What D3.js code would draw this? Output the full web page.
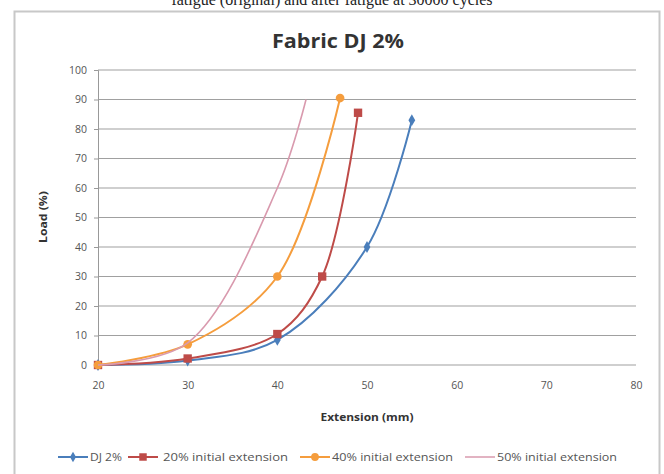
<!DOCTYPE html>
<html>
<head>
<meta charset="utf-8">
<script src="https://cdn.jsdelivr.net/npm/d3@7"></script>
<style>
  body { margin: 0; background: #fff; }
  svg { display: block; }
</style>
</head>
<body>
<div id="chart"></div>
<script>
// values
const seriesNames = ['DJ 2%', '20% initial extension', '40% initial extension', '50% initial extension'];
const dj2 = [[20, 0], [30, 1.5], [40, 8.5], [50, 40], [55, 83]];
const ext20 = [[20, 0], [30, 2.2], [40, 10.5], [45, 30], [49, 85.5]];
const ext40 = [[20, 0], [30, 7], [40, 30], [47, 90.5]];
const ext50 = [[20, 0], [30, 7.5], [40, 60], [43.2, 90]];
const xTicks = [20, 30, 40, 50, 60, 70, 80];
const yTicks = [0, 10, 20, 30, 40, 50, 60, 70, 80, 90, 100];

const colors = ['#4a7ebb', '#be4b48', '#f59d3d', '#d99aae'];
const markers = ['diamond', 'square', 'circle', null];
const seriesData = [dj2, ext20, ext40, ext50];

const width = 664, height = 474;
const margin = { left: 98, right: 28, top: 70, bottom: 109 };
const font = '"Open Sans", sans-serif';

const svg = d3.select('#chart').append('svg')
  .attr('width', width).attr('height', height);

// caption, cut off by the top edge as in the source scan
svg.append('text')
  .attr('x', 332).attr('y', 5)
  .attr('text-anchor', 'middle')
  .style('font-family', '"Liberation Serif", serif')
  .style('font-size', '16px')
  .attr('fill', '#222')
  .text('fatigue (original) and after fatigue at 30000 cycles');

// chart frame
svg.append('rect')
  .attr('x', 14.5).attr('y', 11.5)
  .attr('width', 645).attr('height', 470)
  .attr('fill', '#fff')
  .attr('stroke', '#c8c8c8')
  .attr('stroke-width', 2);

svg.append('text')
  .attr('x', 338).attr('y', 48)
  .attr('text-anchor', 'middle')
  .style('font-family', font)
  .style('font-weight', 'bold')
  .style('font-size', '20px')
  .attr('fill', '#333')
  .attr('textLength', 132)
  .attr('lengthAdjust', 'spacingAndGlyphs')
  .text('Fabric DJ 2%');

const x = d3.scaleLinear().domain([20, 80]).range([margin.left, width - margin.right]);
const y = d3.scaleLinear().domain([0, 100]).range([height - margin.bottom, margin.top]);

// gridlines
svg.append('g')
  .selectAll('line')
  .data(yTicks)
  .join('line')
  .attr('x1', margin.left).attr('x2', x(80))
  .attr('y1', d => y(d)).attr('y2', d => y(d))
  .attr('stroke', '#a0a0a0')
  .attr('stroke-width', 1.2);

// y axis
const gy = svg.append('g')
  .attr('transform', `translate(${margin.left},0)`)
  .call(d3.axisLeft(y).tickValues(yTicks).tickSize(4).tickPadding(7));
gy.select('.domain').attr('stroke', '#999');
gy.selectAll('.tick line').attr('stroke', '#999');
gy.selectAll('text')
  .style('font-family', font)
  .style('font-size', '10.5px')
  .attr('fill', '#555');

// x axis
const gx = svg.append('g')
  .attr('transform', `translate(0,${y(0)})`)
  .call(d3.axisBottom(x).tickValues(xTicks).tickSize(0).tickPadding(17));
gx.select('.domain').remove();
gx.selectAll('text')
  .style('font-family', font)
  .style('font-size', '10.5px')
  .attr('fill', '#555');

// axis labels
svg.append('text')
  .attr('x', 367).attr('y', 421)
  .attr('text-anchor', 'middle')
  .style('font-family', font)
  .style('font-weight', 'bold')
  .style('font-size', '10px')
  .attr('fill', '#333')
  .attr('textLength', 93)
  .attr('lengthAdjust', 'spacingAndGlyphs')
  .text('Extension (mm)');

svg.append('text')
  .attr('transform', 'translate(47,217) rotate(-90)')
  .attr('text-anchor', 'middle')
  .style('font-family', font)
  .style('font-weight', 'bold')
  .style('font-size', '10px')
  .attr('fill', '#333')
  .attr('textLength', 52)
  .attr('lengthAdjust', 'spacingAndGlyphs')
  .text('Load (%)');

const line = d3.line()
  .x(d => x(d[0]))
  .y(d => y(d[1]))
  .curve(d3.curveCatmullRom.alpha(0.5));

const symbolType = { diamond: d3.symbolDiamond, square: d3.symbolSquare, circle: d3.symbolCircle };
const symbolSize = { diamond: 40, square: 70, circle: 60 };

seriesData.forEach((data, i) => {
  svg.append('path')
    .datum(data)
    .attr('fill', 'none')
    .attr('stroke', colors[i])
    .attr('stroke-width', i === 3 ? 1.6 : 2)
    .attr('d', line);

  if (markers[i]) {
    svg.append('g')
      .selectAll('path')
      .data(data)
      .join('path')
      .attr('transform', d => `translate(${x(d[0])},${y(d[1])})`)
      .attr('d', d3.symbol(symbolType[markers[i]], symbolSize[markers[i]]))
      .attr('fill', colors[i]);
  }
});

// legend
const legendItems = [
  { x: 58, textX: 90, w: 32 },
  { x: 128, textX: 163, w: 125 },
  { x: 300, textX: 332, w: 121 },
  { x: 465, textX: 497, w: 120 }
];
const lg = svg.append('g');
legendItems.forEach((item, i) => {
  const ly = 457;
  lg.append('line')
    .attr('x1', item.x).attr('x2', item.x + 30)
    .attr('y1', ly).attr('y2', ly)
    .attr('stroke', colors[i])
    .attr('stroke-width', i === 3 ? 1.5 : 2);
  if (markers[i]) {
    lg.append('path')
      .attr('transform', `translate(${item.x + 15},${ly})`)
      .attr('d', d3.symbol(symbolType[markers[i]], symbolSize[markers[i]] * 0.8))
      .attr('fill', colors[i]);
  }
  lg.append('text')
    .attr('x', item.textX).attr('y', ly + 4)
    .style('font-family', font)
    .style('font-size', '11px')
    .attr('fill', '#555')
    .attr('textLength', item.w)
    .attr('lengthAdjust', 'spacingAndGlyphs')
    .text(seriesNames[i]);
});
</script>
</body>
</html>
